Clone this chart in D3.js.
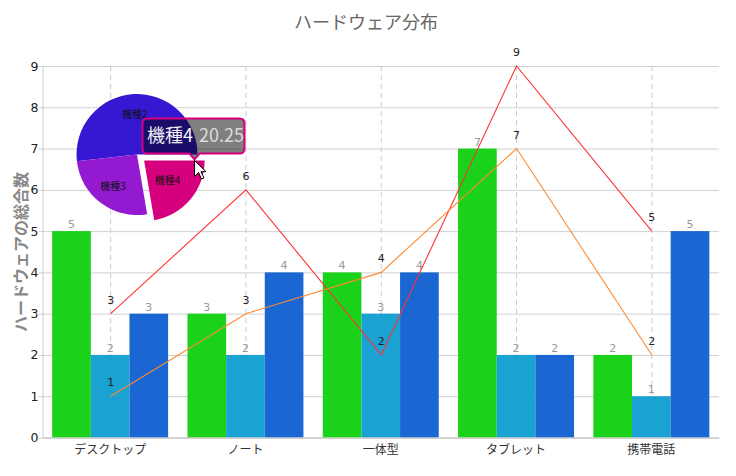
<!DOCTYPE html>
<html>
<head>
<meta charset="utf-8">
<script src="https://cdn.jsdelivr.net/npm/d3@7"></script>
<style>
  html, body { margin: 0; padding: 0; background: #fff; }
  svg { display: block; font-family: "Noto Sans CJK JP", "DejaVu Sans", sans-serif; }
</style>
</head>
<body>
<svg id="chart" width="736" height="476"></svg>
<script>
// ---- data ----
const categories = ["デスクトップ", "ノート", "一体型", "タブレット", "携帯電話"];
const barSeriesNames = ["A", "B", "C"];
const barA = [5, 3, 4, 7, 2];
const barB = [2, 2, 3, 2, 1];
const barC = [3, 4, 4, 2, 5];
const lineRed = [3, 6, 2, 9, 5];
const lineOrange = [1, 3, 4, 7, 2];
const yTicks = [0, 1, 2, 3, 4, 5, 6, 7, 8, 9];
const pieLabels = ["機種2", "機種3", "機種4"];
const pieValues = [47, 23.5, 20.25];
const titleText = "ハードウェア分布";
const yTitle = "ハードウェアの総合数";
const tooltipName = "機種4";
const tooltipValue = "20.25";

// ---- styles ----
const barColors = ["#1ad21a", "#1aa3d2", "#1a66d2"];
const pieColors = ["#3618d2", "#941ad2", "#d6007f"];

const svg = d3.select("#chart");
const pL = 42.5, pR = 719, pT = 66, pB = 437.5;

const x0 = d3.scaleBand().domain(categories).range([pL, pR]).paddingInner(0.143).paddingOuter(0.0715);
const x1 = d3.scaleBand().domain(barSeriesNames).range([0, x0.bandwidth()]);
const xc = c => x0(c) + x0.bandwidth() / 2;
const y = d3.scaleLinear().domain([0, 9]).range([pB, pT]);

// title
svg.append("text").attr("x", 366).attr("y", 29).attr("text-anchor", "middle")
  .attr("font-size", 18).attr("fill", "#666").text(titleText);

// horizontal grid
const yAxis = d3.axisLeft(y).tickValues(yTicks).tickSize(-(pR - pL)).tickPadding(4).tickFormat(d3.format("d"));
const gy = svg.append("g").attr("transform", `translate(${pL},0)`).call(yAxis);
gy.select(".domain").attr("stroke", "#ccc");
gy.selectAll(".tick line").attr("stroke", "#d0d0d0").attr("x1", -4);
gy.selectAll(".tick text").attr("font-size", 12.5).attr("fill", "#222").attr("font-family", "DejaVu Sans, sans-serif").attr("x", -4);

// vertical dashed grid
svg.append("g").selectAll("line").data(categories).join("line")
  .attr("x1", d => xc(d) + 0.5).attr("x2", d => xc(d) + 0.5)
  .attr("y1", pT).attr("y2", pB)
  .attr("stroke", "#ccc").attr("stroke-dasharray", "5,4");

// bars
const barData = categories.map((c, i) => ({ c, vals: [barA[i], barB[i], barC[i]] }));
const gBars = svg.append("g");
barData.forEach(d => {
  d.vals.forEach((v, j) => {
    const bx = x0(d.c) + x1(barSeriesNames[j]);
    gBars.append("rect").attr("x", bx).attr("y", y(v)).attr("width", x1.bandwidth()).attr("height", y(0) - y(v))
      .attr("fill", barColors[j]);
    gBars.append("text").attr("x", bx + x1.bandwidth() / 2).attr("y", y(v) - 3)
      .attr("text-anchor", "middle").attr("font-size", 11).attr("fill", "#999")
      .attr("font-family", "DejaVu Sans, sans-serif").text(v);
  });
});

// x axis
const xAxis = d3.axisBottom(x0).tickSize(0).tickPadding(8);
const gx = svg.append("g").attr("transform", `translate(0,${pB})`).call(xAxis);
gx.select(".domain").attr("stroke", "#ccc");
gx.selectAll(".tick text").attr("font-size", 12).attr("fill", "#333").attr("font-family", "Noto Sans CJK JP, sans-serif");

// lines
const line = d3.line().x((d, i) => xc(categories[i]) + 0.5).y(d => y(d));
[[lineRed, "#ff3333"], [lineOrange, "#ff8a2e"]].forEach(([vals, col]) => {
  svg.append("path").datum(vals).attr("d", line).attr("fill", "none").attr("stroke", col).attr("stroke-width", 1.1);
});
[lineRed, lineOrange].forEach(vals => {
  svg.append("g").selectAll("text").data(vals).join("text")
    .attr("x", (d, i) => xc(categories[i]) + 0.5).attr("y", d => y(d) - 10)
    .attr("text-anchor", "middle").attr("font-size", 11).attr("fill", "#222")
    .attr("font-family", "DejaVu Sans, sans-serif").text(d => d);
});

// y title
svg.append("text").attr("transform", "translate(27,252) rotate(-90)").attr("text-anchor", "middle")
  .attr("font-size", 16).attr("font-weight", "bold").attr("fill", "#888").text(yTitle);

// pie
const cx = 137, cy = 154.5, r = 60.5;
const pie = d3.pie().sort(null).startAngle(Math.PI * 2.5).endAngle(Math.PI * 0.5);
const arcs = pie(pieValues);
const arc = d3.arc().innerRadius(0).outerRadius(r);
const labelArc = d3.arc().innerRadius(r * 0.66).outerRadius(r * 0.66);
const gPie = svg.append("g").attr("transform", `translate(${cx},${cy})`);
arcs.forEach((a, i) => {
  const mid = (a.startAngle + a.endAngle) / 2;
  const off = i === 2 ? 9.3 : 0;
  gPie.append("path").attr("d", arc(a)).attr("fill", pieColors[i])
    .attr("transform", `translate(${off * Math.sin(mid)},${-off * Math.cos(mid)})`);
});
arcs.forEach((a, i) => {
  const [lx, ly] = labelArc.centroid(a);
  gPie.append("text").attr("x", lx).attr("y", ly + 3.5).attr("text-anchor", "middle")
    .attr("font-size", 10).attr("fill", "#111").text(pieLabels[i]);
});

// tooltip
const tx = 142.5, ty = 118.5, tw = 102, th = 35, tipX = 194.5;
const tipPath = `M${tx + 5},${ty} H${tx + tw - 5} Q${tx + tw},${ty} ${tx + tw},${ty + 5} V${ty + th - 5} Q${tx + tw},${ty + th} ${tx + tw - 5},${ty + th} H${tipX + 5} L${tipX},${ty + th + 6} L${tipX - 5},${ty + th} H${tx + 5} Q${tx},${ty + th} ${tx},${ty + th - 5} V${ty + 5} Q${tx},${ty} ${tx + 5},${ty} Z`;
svg.append("path").attr("d", tipPath).attr("fill", "rgba(0,0,0,0.5)").attr("stroke", "#d6007f").attr("stroke-width", 2);
const tt = svg.append("text").attr("x", 147).attr("y", 142).attr("font-size", 18);
tt.append("tspan").attr("fill", "#f2f2f2").text(tooltipName);
tt.append("tspan").attr("fill", "#dcdcdc").attr("dx", 6).text(tooltipValue);

// cursor
svg.append("path")
  .attr("d", "M0,0 L0,16 L4,12 L7,18.5 L9.5,17.5 L6.5,11.2 L11.5,11.2 Z")
  .attr("transform", "translate(194.5,160.5)")
  .attr("fill", "#fff").attr("stroke", "#000").attr("stroke-width", 1).attr("stroke-linejoin", "round");
</script>
</body>
</html>
